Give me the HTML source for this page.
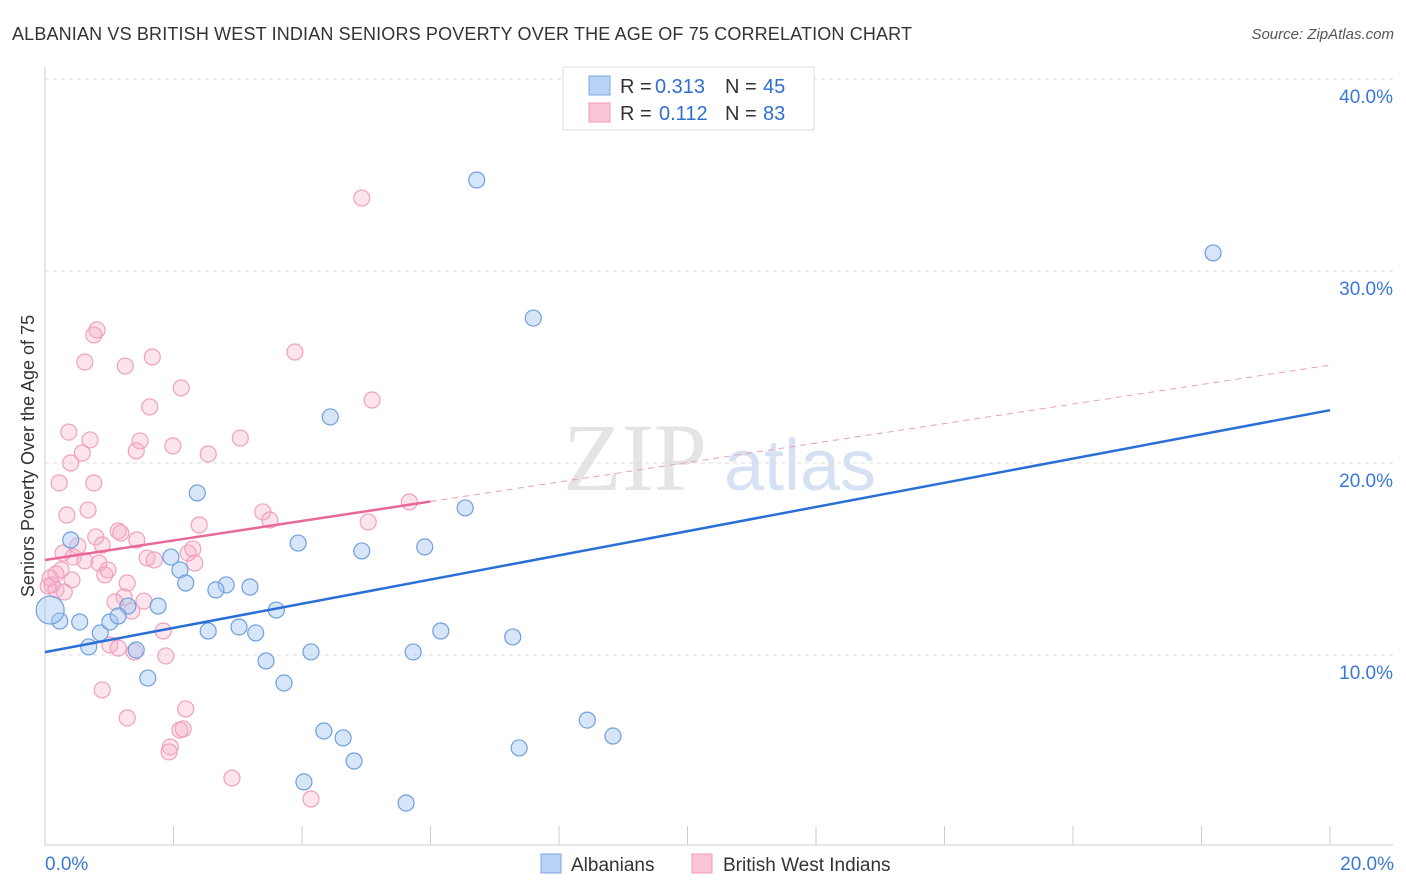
<!DOCTYPE html>
<html><head><meta charset="utf-8"><style>
body{margin:0;background:#fff;font-family:"Liberation Sans",sans-serif;}
svg{display:block}
</style></head><body>
<svg id="chart" width="1406" height="892">
<text x="12" y="40" font-size="18" fill="#333" textLength="900">ALBANIAN VS BRITISH WEST INDIAN SENIORS POVERTY OVER THE AGE OF 75 CORRELATION CHART</text>
<text x="1394" y="39" font-size="15" fill="#555" font-style="italic" text-anchor="end">Source: ZipAtlas.com</text>
<text x="635" y="490" font-size="96" fill="#e4e4e4" font-family="Liberation Serif,serif" text-anchor="middle">ZIP</text>
<text x="800" y="490" font-size="72" fill="#d6e2f3" text-anchor="middle">atlas</text>
<text transform="translate(34,456) rotate(-90)" font-size="18" fill="#333" text-anchor="middle">Seniors Poverty Over the Age of 75</text>
<g id="grid"></g><g id="marks"></g>
<g>
<rect x="563" y="67" width="251" height="63" fill="#fff" stroke="#ddd"/>
<rect x="589" y="76" width="21" height="19" fill="#b8d3f5" stroke="#7aaae6"/>
<rect x="589" y="103" width="21" height="19" fill="#f9c6d6" stroke="#ee9ab5"/>
<text x="620" y="93" font-size="20" fill="#333">R =</text>
<text x="655" y="93" font-size="20" fill="#2f6fd0">0.313</text>
<text x="725" y="93" font-size="20" fill="#333">N =</text>
<text x="763" y="93" font-size="20" fill="#2f6fd0">45</text>
<text x="620" y="120" font-size="20" fill="#333">R =</text>
<text x="659" y="120" font-size="20" fill="#2f6fd0">0.112</text>
<text x="725" y="120" font-size="20" fill="#333">N =</text>
<text x="763" y="120" font-size="20" fill="#2f6fd0">83</text>
</g>
<g>
<rect x="541" y="854" width="20" height="19" fill="#b8d3f5" stroke="#7aaae6"/>
<text x="571" y="871" font-size="19" fill="#333">Albanians</text>
<rect x="692" y="854" width="20" height="19" fill="#f9c6d6" stroke="#ee9ab5"/>
<text x="723" y="871" font-size="19" fill="#333">British West Indians</text>
</g>
</svg>
<script>
const yTicks=[10,20,30,40];
const yTickLabels=["10.0%","20.0%","30.0%","40.0%"];
const xTicks=[0,2,4,6,8,10,12,14,16,18,20];
const blueX=[6.72,18.18,7.60,4.44,2.37,6.54,0.40,3.94,4.93,5.91,1.96,2.10,2.82,2.19,3.19,2.66,1.76,1.29,3.60,0.23,0.54,3.02,2.54,3.28,0.86,1.01,6.16,7.28,1.14,0.68,1.42,4.14,5.73,3.44,1.60,3.72,4.34,4.64,4.81,8.44,8.84,7.38,4.03,5.62,0.08];
const blueY=[34.74,30.94,27.55,22.40,18.44,17.66,15.99,15.83,15.42,15.63,15.10,14.43,13.65,13.75,13.54,13.39,12.55,12.55,12.34,11.77,11.72,11.46,11.25,11.15,11.15,11.72,11.25,10.94,12.03,10.42,10.26,10.16,10.16,9.69,8.80,8.54,6.04,5.68,4.48,6.61,5.78,5.16,3.39,2.29,12.34];
const pinkX=[4.93,0.81,0.76,0.62,1.67,1.25,3.89,2.12,5.09,1.63,0.37,0.70,1.48,3.04,1.99,0.58,1.42,2.54,0.40,0.22,0.76,5.67,0.34,0.67,3.39,3.50,2.40,5.03,1.14,1.18,0.79,1.43,0.51,0.28,0.89,2.23,2.30,1.59,0.44,0.62,0.84,1.70,2.33,0.25,0.98,0.17,0.93,0.42,1.28,0.11,0.17,0.30,0.05,1.23,1.09,1.54,1.35,1.84,1.01,1.14,1.39,1.88,0.89,2.19,1.28,2.10,2.15,1.95,1.93,2.91,4.14,0.08];
const pinkY=[33.80,26.93,26.67,25.26,25.52,25.05,25.78,23.91,23.28,22.92,21.61,21.20,21.15,21.30,20.89,20.52,20.63,20.47,20.00,18.96,18.96,17.97,17.29,17.55,17.45,17.03,16.77,16.93,16.46,16.35,16.15,15.99,15.68,15.31,15.73,15.31,15.52,15.05,15.10,14.90,14.79,14.95,14.79,14.43,14.43,14.22,14.17,13.91,13.75,13.65,13.39,13.28,13.59,13.02,12.76,12.81,12.29,11.25,10.52,10.36,10.16,9.95,8.18,7.19,6.72,6.09,6.15,5.21,4.95,3.59,2.50,14.01];
const blueTrend=[10.15,22.75];
const pinkTrend=[14.95,25.1];
const pinkSolidEnd=6;
const NS='http://www.w3.org/2000/svg';
const sx=v=>45+v*64.25, sy=v=>847-v*19.2;
function mk(tag,attrs,parent){const e=document.createElementNS(NS,tag);for(const k in attrs)e.setAttribute(k,attrs[k]);parent.appendChild(e);return e;}
const grid=document.getElementById('grid'), marks=document.getElementById('marks');
yTicks.forEach((t,i)=>{
 const l=mk('line',{x1:45,x2:1393,y1:sy(t),y2:sy(t),stroke:'#ddd','stroke-dasharray':'4,4'},grid);
 
 
 const tx=mk('text',{x:1393,y:sy(t)+24,'font-size':19,fill:'#3a78d4','text-anchor':'end'},grid);
 tx.textContent=yTickLabels[i];
 
 
});
const ax=mk('line',{x1:45,x2:45,y1:67,y2:845,stroke:'#ccc'},grid);


const bx=mk('line',{x1:45,x2:1393,y1:845,y2:845,stroke:'#ccc'},grid);


xTicks.forEach(t=>{
 const l=mk('line',{x1:sx(t),x2:sx(t),y1:826,y2:845,stroke:'#ccc'},grid);
 
 
});
[[0,'0.0%','start',45],[20,'20.0%','end',1394]].forEach(a=>{
 const tx=mk('text',{x:a[3],y:870,'font-size':19,fill:'#3a78d4','text-anchor':a[2]},grid);
 tx.textContent=a[1];
 
 
});
pinkX.forEach((x,i)=>{
 const c=mk('circle',{cx:sx(x),cy:sy(pinkY[i]),r:8,fill:'rgba(246,175,200,0.35)',stroke:'#f0a0bc','stroke-width':1.2},marks);
 
 
});
blueX.forEach((x,i)=>{
 const c=mk('circle',{cx:sx(x),cy:sy(blueY[i]),r:i===blueX.length-1?14:8,fill:'rgba(165,198,240,0.45)',stroke:'#6e9fe0','stroke-width':1.2},marks);
 
 
});
const pf=x=>pinkTrend[0]+(pinkTrend[1]-pinkTrend[0])*x/20;
const pd=mk('line',{x1:sx(pinkSolidEnd),y1:sy(pf(pinkSolidEnd)),x2:sx(20),y2:sy(pinkTrend[1]),stroke:'#e8a0b8','stroke-width':1,'stroke-dasharray':'6,5'},marks);


const ps=mk('line',{x1:sx(0),y1:sy(pinkTrend[0]),x2:sx(pinkSolidEnd),y2:sy(pf(pinkSolidEnd)),stroke:'#e8689a','stroke-width':2.5},marks);


const bl=mk('line',{x1:sx(0),y1:sy(blueTrend[0]),x2:sx(20),y2:sy(blueTrend[1]),stroke:'#2a6fd6','stroke-width':2.5},marks);


</script>
</body></html>
